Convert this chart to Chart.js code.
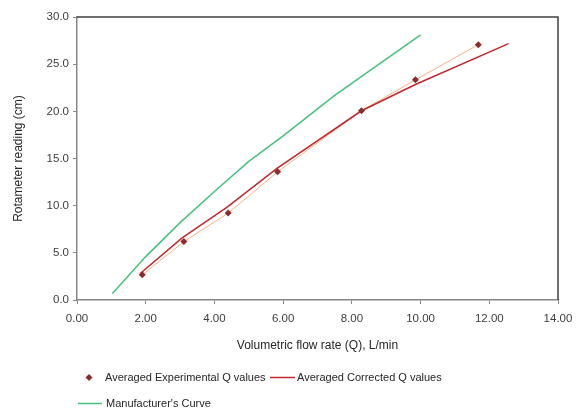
<!DOCTYPE html>
<html>
<head>
<meta charset="utf-8">
<script src="https://cdn.jsdelivr.net/npm/chart.js@4/dist/chart.umd.min.js"></script>
<style>
  html, body { margin: 0; padding: 0; background: #fff; }
  #wrap { width: 577px; height: 408px; }
</style>
</head>
<body>
<div id="wrap"><canvas id="chart" width="577" height="408"></canvas></div>
<script>
// Data
const expQ = [1.90, 3.11, 4.40, 5.84, 8.28, 9.85, 11.68];
const expReading = [2.67, 6.19, 9.21, 13.59, 20.06, 23.34, 27.07];

const corrQ = [1.84, 3.06, 4.37, 5.82, 8.28, 9.85, 12.56];
const corrReading = [2.81, 6.58, 9.85, 13.95, 20.06, 22.84, 27.18];

const mfrQ = [1.03, 2.0, 3.0, 4.0, 5.0, 6.0, 7.5, 10.0];
const mfrReading = [0.7, 4.6, 8.2, 11.5, 14.7, 17.4, 21.7, 28.1];

const xTicks = [0, 2, 4, 6, 8, 10, 12, 14];
const yTicks = [0, 5, 10, 15, 20, 25, 30];

const FONT = '"Liberation Sans", Arial, sans-serif';
const toPts = (xs, ys) => xs.map((x, i) => ({ x, y: ys[i] }));

// top + right frame lines of the plot box
const frame = {
  id: "frame",
  afterDraw(chart) {
    const { ctx, chartArea: a } = chart;
    ctx.save();
    ctx.strokeStyle = "#404040";
    ctx.lineWidth = 1.5;
    ctx.beginPath();
    ctx.moveTo(a.left, a.top);
    ctx.lineTo(a.right, a.top);
    ctx.lineTo(a.right, a.bottom);
    ctx.stroke();
    ctx.restore();
  },
};

// Excel-like legend under the axis title
const legendBox = {
  id: "legendBox",
  afterDraw(chart) {
    const ctx = chart.ctx;
    ctx.save();
    ctx.font = "11px " + FONT;
    ctx.textBaseline = "middle";
    // row 1
    ctx.fillStyle = "#8B2B2B";
    ctx.beginPath();
    ctx.moveTo(89, 374);
    ctx.lineTo(92.5, 377.5);
    ctx.lineTo(89, 381);
    ctx.lineTo(85.5, 377.5);
    ctx.closePath();
    ctx.fill();
    ctx.fillStyle = "#262626";
    ctx.fillText("Averaged Experimental Q values", 105, 378);
    ctx.strokeStyle = "#C0282D";
    ctx.lineWidth = 1.5;
    ctx.beginPath();
    ctx.moveTo(270, 377.5);
    ctx.lineTo(295, 377.5);
    ctx.stroke();
    ctx.fillText("Averaged Corrected Q values", 297, 378);
    // row 2
    ctx.strokeStyle = "#45C27C";
    ctx.beginPath();
    ctx.moveTo(78, 403.5);
    ctx.lineTo(102, 403.5);
    ctx.stroke();
    ctx.fillText("Manufacturer's Curve", 106, 404);
    ctx.restore();
  },
};

new Chart(document.getElementById("chart"), {
  type: "scatter",
  data: {
    datasets: [
      {
        label: "Experimental trend",
        data: toPts(expQ, expReading),
        showLine: true,
        borderColor: "#F7B27C",
        borderWidth: 1,
        pointRadius: 0,
        tension: 0,
        order: 3,
      },
      {
        label: "Averaged Corrected Q values",
        data: toPts(corrQ, corrReading),
        showLine: true,
        borderColor: "#C0282D",
        borderWidth: 1.5,
        pointRadius: 0,
        tension: 0,
        order: 2,
      },
      {
        label: "Manufacturer's Curve",
        data: toPts(mfrQ, mfrReading),
        showLine: true,
        borderColor: "#45C27C",
        borderWidth: 1.5,
        pointRadius: 0,
        tension: 0,
        order: 2,
      },
      {
        label: "Averaged Experimental Q values",
        data: toPts(expQ, expReading),
        showLine: false,
        pointStyle: "rectRot",
        pointRadius: 3.5,
        backgroundColor: "#8B2B2B",
        borderColor: "#8B2B2B",
        borderWidth: 0,
        order: 1,
      },
    ],
  },
  options: {
    responsive: false,
    animation: false,
    layout: { padding: { left: 11, right: 19, top: 17, bottom: 55 } },
    plugins: {
      legend: { display: false },
      tooltip: { enabled: false },
    },
    scales: {
      x: {
        type: "linear",
        min: 0,
        max: 14,
        afterBuildTicks: (s) => { s.ticks = xTicks.map((v) => ({ value: v })); },
        afterFit: (s) => {
          s.height = 53;
          s.paddingLeft = 0;
          s.paddingRight = 0;
        },
        ticks: {
          callback: (v) => v.toFixed(2),
          font: { family: FONT, size: 11.5 },
          color: "#404040",
          padding: 8,
          maxRotation: 0,
        },
        grid: { drawOnChartArea: false, drawTicks: true, tickLength: 4, tickColor: "#868686" },
        border: { color: "#868686", width: 1.5 },
        title: {
          display: true,
          text: "Volumetric flow rate (Q), L/min",
          font: { family: FONT, size: 12 },
          color: "#262626",
          padding: { top: 7, bottom: 0 },
        },
      },
      y: {
        type: "linear",
        min: 0,
        max: 30,
        afterBuildTicks: (s) => { s.ticks = yTicks.map((v) => ({ value: v })); },
        afterFit: (s) => { s.width = 66; },
        ticks: {
          callback: (v) => v.toFixed(1),
          font: { family: FONT, size: 11.5 },
          color: "#404040",
          padding: 4,
        },
        grid: { drawOnChartArea: false, drawTicks: true, tickLength: 4, tickColor: "#868686" },
        border: { color: "#868686", width: 1.5 },
        title: {
          display: true,
          text: "Rotameter reading (cm)",
          font: { family: FONT, size: 12 },
          color: "#262626",
          padding: { top: 0, bottom: 4 },
        },
      },
    },
  },
  plugins: [frame, legendBox],
});
</script>
</body>
</html>
